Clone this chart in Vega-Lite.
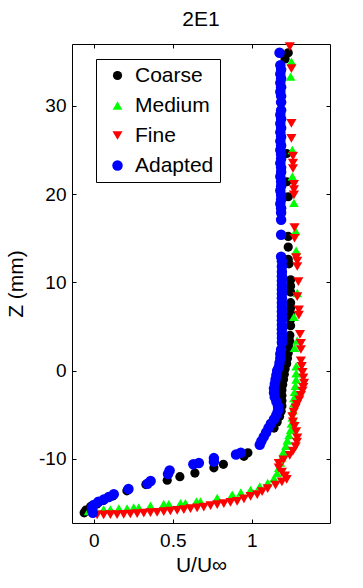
{
  "$schema": "https://vega.github.io/schema/vega-lite/v6.json",
  "width": 258,
  "height": 479,
  "autosize": {"type": "none"},
  "padding": {"left": 72, "top": 44, "right": 33, "bottom": 65},
  "background": "white",
  "title": {"text": "2E1", "fontSize": 21, "fontWeight": "normal", "font": "Liberation Sans", "color": "black", "offset": 12},
  "config": {
    "view": {"stroke": "black", "strokeWidth": 1},
    "axis": {
      "grid": false, "domain": false, "tickColor": "black", "tickSize": -4, "tickWidth": 1,
      "labelColor": "black", "labelFont": "Liberation Sans", "labelFontSize": 19,
      "titleFont": "Liberation Sans", "titleFontSize": 21, "titleFontWeight": "normal", "titleColor": "black"
    },
    "legend": {"labelFont": "Liberation Sans"}
  },
  "data": {"values": [
    {"s":"Coarse","u":1.23,"z":36.0},{"s":"Coarse","u":1.21,"z":35.3},{"s":"Coarse","u":1.22,"z":24.6},{"s":"Coarse","u":1.22,"z":21.4},{"s":"Coarse","u":1.23,"z":19.7},{"s":"Coarse","u":1.23,"z":15.2},{"s":"Coarse","u":1.23,"z":14.0},{"s":"Coarse","u":1.23,"z":12.6},{"s":"Coarse","u":1.235,"z":12.1},{"s":"Coarse","u":1.245,"z":10.3},{"s":"Coarse","u":1.245,"z":9.6},{"s":"Coarse","u":1.245,"z":8.9},{"s":"Coarse","u":1.245,"z":7.7},{"s":"Coarse","u":1.245,"z":7.1},{"s":"Coarse","u":1.245,"z":6.4},{"s":"Coarse","u":1.245,"z":5.8},{"s":"Coarse","u":1.245,"z":5.1},{"s":"Coarse","u":1.24,"z":4.0},{"s":"Coarse","u":1.24,"z":3.3},{"s":"Coarse","u":1.235,"z":2.6},{"s":"Coarse","u":1.23,"z":2.0},{"s":"Coarse","u":1.225,"z":1.4},{"s":"Coarse","u":1.22,"z":0.8},{"s":"Coarse","u":1.21,"z":0.2},{"s":"Coarse","u":1.205,"z":-0.4},{"s":"Coarse","u":1.2,"z":-1.0},{"s":"Coarse","u":1.195,"z":-1.6},{"s":"Coarse","u":1.19,"z":-2.2},{"s":"Coarse","u":1.19,"z":-2.8},{"s":"Coarse","u":1.19,"z":-3.4},{"s":"Coarse","u":1.19,"z":-4.0},{"s":"Coarse","u":1.185,"z":-4.6},{"s":"Coarse","u":1.175,"z":-5.2},{"s":"Coarse","u":1.16,"z":-5.8},{"s":"Coarse","u":1.14,"z":-6.5},{"s":"Coarse","u":0.975,"z":-9.3},{"s":"Coarse","u":0.95,"z":-9.7},{"s":"Coarse","u":0.82,"z":-10.6},{"s":"Coarse","u":0.76,"z":-11.0},{"s":"Coarse","u":0.64,"z":-11.6},{"s":"Coarse","u":0.545,"z":-12.0},{"s":"Coarse","u":0.465,"z":-12.4},{"s":"Coarse","u":0.33,"z":-12.9},{"s":"Coarse","u":0.21,"z":-13.6},{"s":"Coarse","u":0.12,"z":-14.2},{"s":"Coarse","u":0.06,"z":-14.7},{"s":"Coarse","u":0.02,"z":-15.1},{"s":"Coarse","u":-0.02,"z":-15.4},{"s":"Coarse","u":-0.05,"z":-15.8},{"s":"Coarse","u":-0.06,"z":-16.1},
    {"s":"Medium","u":1.25,"z":35.0},{"s":"Medium","u":1.245,"z":33.3},{"s":"Medium","u":1.256,"z":25.0},{"s":"Medium","u":1.256,"z":22.0},{"s":"Medium","u":1.266,"z":19.0},{"s":"Medium","u":1.277,"z":15.8},{"s":"Medium","u":1.28,"z":13.6},{"s":"Medium","u":1.287,"z":8.8},{"s":"Medium","u":1.266,"z":6.1},{"s":"Medium","u":1.287,"z":3.4},{"s":"Medium","u":1.27,"z":2.6},{"s":"Medium","u":1.28,"z":0.5},{"s":"Medium","u":1.28,"z":-0.3},{"s":"Medium","u":1.28,"z":-1.0},{"s":"Medium","u":1.275,"z":-1.7},{"s":"Medium","u":1.27,"z":-2.4},{"s":"Medium","u":1.266,"z":-3.1},{"s":"Medium","u":1.266,"z":-3.7},{"s":"Medium","u":1.26,"z":-4.5},{"s":"Medium","u":1.256,"z":-5.3},{"s":"Medium","u":1.25,"z":-6.0},{"s":"Medium","u":1.245,"z":-6.7},{"s":"Medium","u":1.235,"z":-7.3},{"s":"Medium","u":1.224,"z":-7.9},{"s":"Medium","u":1.215,"z":-8.5},{"s":"Medium","u":1.2,"z":-9.2},{"s":"Medium","u":1.19,"z":-9.8},{"s":"Medium","u":1.18,"z":-10.4},{"s":"Medium","u":1.17,"z":-11.0},{"s":"Medium","u":1.16,"z":-11.6},{"s":"Medium","u":1.14,"z":-12.2},{"s":"Medium","u":1.1,"z":-12.7},{"s":"Medium","u":1.05,"z":-13.1},{"s":"Medium","u":0.992,"z":-13.5},{"s":"Medium","u":0.93,"z":-13.8},{"s":"Medium","u":0.876,"z":-14.04},{"s":"Medium","u":0.781,"z":-14.4},{"s":"Medium","u":0.675,"z":-14.8},{"s":"Medium","u":0.65,"z":-14.8},{"s":"Medium","u":0.58,"z":-15.0},{"s":"Medium","u":0.549,"z":-15.0},{"s":"Medium","u":0.475,"z":-15.1},{"s":"Medium","u":0.443,"z":-15.1},{"s":"Medium","u":0.359,"z":-15.3},{"s":"Medium","u":0.285,"z":-15.5},{"s":"Medium","u":0.253,"z":-15.5},{"s":"Medium","u":0.211,"z":-15.6},{"s":"Medium","u":0.159,"z":-15.6},{"s":"Medium","u":0.106,"z":-15.7},{"s":"Medium","u":0.063,"z":-15.7},{"s":"Medium","u":0.011,"z":-15.7},{"s":"Medium","u":-0.032,"z":-15.9},
    {"s":"Fine","u":1.24,"z":36.7},{"s":"Fine","u":1.25,"z":34.2},{"s":"Fine","u":1.25,"z":28.0},{"s":"Fine","u":1.25,"z":26.3},{"s":"Fine","u":1.26,"z":24.3},{"s":"Fine","u":1.26,"z":23.5},{"s":"Fine","u":1.26,"z":22.9},{"s":"Fine","u":1.266,"z":21.1},{"s":"Fine","u":1.266,"z":20.5},{"s":"Fine","u":1.266,"z":19.9},{"s":"Fine","u":1.27,"z":16.2},{"s":"Fine","u":1.27,"z":15.0},{"s":"Fine","u":1.28,"z":12.8},{"s":"Fine","u":1.287,"z":12.4},{"s":"Fine","u":1.287,"z":11.8},{"s":"Fine","u":1.294,"z":10.1},{"s":"Fine","u":1.287,"z":8.4},{"s":"Fine","u":1.297,"z":6.9},{"s":"Fine","u":1.297,"z":6.3},{"s":"Fine","u":1.304,"z":4.1},{"s":"Fine","u":1.31,"z":3.1},{"s":"Fine","u":1.31,"z":2.4},{"s":"Fine","u":1.31,"z":1.1},{"s":"Fine","u":1.315,"z":0.5},{"s":"Fine","u":1.32,"z":-0.2},{"s":"Fine","u":1.325,"z":-0.8},{"s":"Fine","u":1.33,"z":-1.4},{"s":"Fine","u":1.325,"z":-1.9},{"s":"Fine","u":1.32,"z":-2.3},{"s":"Fine","u":1.31,"z":-2.8},{"s":"Fine","u":1.3,"z":-3.3},{"s":"Fine","u":1.285,"z":-3.8},{"s":"Fine","u":1.277,"z":-4.2},{"s":"Fine","u":1.265,"z":-4.7},{"s":"Fine","u":1.256,"z":-5.2},{"s":"Fine","u":1.26,"z":-5.8},{"s":"Fine","u":1.27,"z":-6.3},{"s":"Fine","u":1.28,"z":-6.9},{"s":"Fine","u":1.287,"z":-7.6},{"s":"Fine","u":1.285,"z":-8.1},{"s":"Fine","u":1.277,"z":-8.6},{"s":"Fine","u":1.26,"z":-9.1},{"s":"Fine","u":1.24,"z":-9.6},{"s":"Fine","u":1.2,"z":-10.1},{"s":"Fine","u":1.17,"z":-10.5},{"s":"Fine","u":1.17,"z":-11.0},{"s":"Fine","u":1.19,"z":-11.5},{"s":"Fine","u":1.21,"z":-11.9},{"s":"Fine","u":1.22,"z":-12.3},{"s":"Fine","u":1.19,"z":-12.6},{"s":"Fine","u":1.15,"z":-12.95},{"s":"Fine","u":1.1,"z":-13.35},{"s":"Fine","u":1.065,"z":-13.7},{"s":"Fine","u":1.034,"z":-14.04},{"s":"Fine","u":0.992,"z":-14.23},{"s":"Fine","u":0.95,"z":-14.53},{"s":"Fine","u":0.907,"z":-14.8},{"s":"Fine","u":0.865,"z":-14.91},{"s":"Fine","u":0.823,"z":-15.06},{"s":"Fine","u":0.781,"z":-15.18},{"s":"Fine","u":0.739,"z":-15.29},{"s":"Fine","u":0.696,"z":-15.44},{"s":"Fine","u":0.654,"z":-15.55},{"s":"Fine","u":0.612,"z":-15.63},{"s":"Fine","u":0.57,"z":-15.74},{"s":"Fine","u":0.528,"z":-15.82},{"s":"Fine","u":0.485,"z":-15.89},{"s":"Fine","u":0.443,"z":-15.97},{"s":"Fine","u":0.401,"z":-16.04},{"s":"Fine","u":0.359,"z":-16.08},{"s":"Fine","u":0.317,"z":-16.12},{"s":"Fine","u":0.275,"z":-16.19},{"s":"Fine","u":0.232,"z":-16.23},{"s":"Fine","u":0.19,"z":-16.27},{"s":"Fine","u":0.148,"z":-16.31},{"s":"Fine","u":0.106,"z":-16.31},{"s":"Fine","u":0.063,"z":-16.34},{"s":"Fine","u":0.022,"z":-16.34},
    {"s":"Adapted","u":1.175,"z":36.0},{"s":"Adapted","u":1.18,"z":34.6},{"s":"Adapted","u":1.185,"z":34.1},{"s":"Adapted","u":1.18,"z":33.6},{"s":"Adapted","u":1.185,"z":33.1},{"s":"Adapted","u":1.18,"z":32.6},{"s":"Adapted","u":1.185,"z":32.1},{"s":"Adapted","u":1.18,"z":31.6},{"s":"Adapted","u":1.185,"z":31.1},{"s":"Adapted","u":1.185,"z":30.4},{"s":"Adapted","u":1.185,"z":29.5},{"s":"Adapted","u":1.18,"z":29.0},{"s":"Adapted","u":1.185,"z":28.5},{"s":"Adapted","u":1.18,"z":28.0},{"s":"Adapted","u":1.185,"z":27.5},{"s":"Adapted","u":1.18,"z":27.0},{"s":"Adapted","u":1.185,"z":26.5},{"s":"Adapted","u":1.18,"z":26.0},{"s":"Adapted","u":1.185,"z":25.5},{"s":"Adapted","u":1.18,"z":25.0},{"s":"Adapted","u":1.185,"z":24.5},{"s":"Adapted","u":1.185,"z":24.0},{"s":"Adapted","u":1.18,"z":23.5},{"s":"Adapted","u":1.185,"z":23.0},{"s":"Adapted","u":1.185,"z":22.5},{"s":"Adapted","u":1.18,"z":22.0},{"s":"Adapted","u":1.185,"z":21.4},{"s":"Adapted","u":1.185,"z":20.9},{"s":"Adapted","u":1.18,"z":20.4},{"s":"Adapted","u":1.185,"z":19.9},{"s":"Adapted","u":1.185,"z":19.4},{"s":"Adapted","u":1.18,"z":18.9},{"s":"Adapted","u":1.185,"z":18.4},{"s":"Adapted","u":1.185,"z":17.9},{"s":"Adapted","u":1.185,"z":17.1},{"s":"Adapted","u":1.185,"z":15.4},{"s":"Adapted","u":1.185,"z":12.9},{"s":"Adapted","u":1.19,"z":12.4},{"s":"Adapted","u":1.19,"z":11.8},{"s":"Adapted","u":1.19,"z":11.2},{"s":"Adapted","u":1.19,"z":10.7},{"s":"Adapted","u":1.19,"z":10.2},{"s":"Adapted","u":1.19,"z":9.7},{"s":"Adapted","u":1.19,"z":9.2},{"s":"Adapted","u":1.19,"z":8.7},{"s":"Adapted","u":1.19,"z":8.2},{"s":"Adapted","u":1.19,"z":7.7},{"s":"Adapted","u":1.19,"z":7.2},{"s":"Adapted","u":1.19,"z":6.7},{"s":"Adapted","u":1.19,"z":6.2},{"s":"Adapted","u":1.19,"z":5.7},{"s":"Adapted","u":1.19,"z":5.2},{"s":"Adapted","u":1.19,"z":4.7},{"s":"Adapted","u":1.19,"z":4.2},{"s":"Adapted","u":1.19,"z":3.7},{"s":"Adapted","u":1.19,"z":3.2},{"s":"Adapted","u":1.185,"z":2.4},{"s":"Adapted","u":1.18,"z":1.9},{"s":"Adapted","u":1.18,"z":1.4},{"s":"Adapted","u":1.175,"z":0.9},{"s":"Adapted","u":1.17,"z":0.4},{"s":"Adapted","u":1.16,"z":0.0},{"s":"Adapted","u":1.155,"z":-0.5},{"s":"Adapted","u":1.15,"z":-1.0},{"s":"Adapted","u":1.145,"z":-1.5},{"s":"Adapted","u":1.14,"z":-2.0},{"s":"Adapted","u":1.14,"z":-2.5},{"s":"Adapted","u":1.145,"z":-3.0},{"s":"Adapted","u":1.155,"z":-3.5},{"s":"Adapted","u":1.165,"z":-4.0},{"s":"Adapted","u":1.165,"z":-4.5},{"s":"Adapted","u":1.155,"z":-5.0},{"s":"Adapted","u":1.14,"z":-5.5},{"s":"Adapted","u":1.12,"z":-6.0},{"s":"Adapted","u":1.105,"z":-6.5},{"s":"Adapted","u":1.09,"z":-7.0},{"s":"Adapted","u":1.075,"z":-7.5},{"s":"Adapted","u":1.06,"z":-8.0},{"s":"Adapted","u":1.05,"z":-8.4},{"s":"Adapted","u":0.93,"z":-9.3},{"s":"Adapted","u":0.9,"z":-9.5},{"s":"Adapted","u":0.76,"z":-9.9},{"s":"Adapted","u":0.76,"z":-10.3},{"s":"Adapted","u":0.665,"z":-10.45},{"s":"Adapted","u":0.63,"z":-10.6},{"s":"Adapted","u":0.48,"z":-11.3},{"s":"Adapted","u":0.47,"z":-11.7},{"s":"Adapted","u":0.36,"z":-12.5},{"s":"Adapted","u":0.34,"z":-12.8},{"s":"Adapted","u":0.22,"z":-13.4},{"s":"Adapted","u":0.127,"z":-14.0},{"s":"Adapted","u":0.095,"z":-14.3},{"s":"Adapted","u":0.063,"z":-14.6},{"s":"Adapted","u":0.03,"z":-14.85},{"s":"Adapted","u":0.0,"z":-15.2},{"s":"Adapted","u":-0.01,"z":-15.5},{"s":"Adapted","u":-0.01,"z":-15.8},{"s":"Adapted","u":-0.005,"z":-16.1}
  ]},
  "layer": [
    {
      "mark": {"type": "point", "filled": true, "opacity": 1, "strokeWidth": 0},
      "encoding": {
        "x": {"field": "u", "type": "quantitative", "scale": {"domain": [-0.137, 1.494], "nice": false, "zero": false},
              "axis": {"orient": "bottom", "values": [0, 0.5, 1], "labelExpr": "'' + datum.value", "labelPadding": 12, "title": "U/U∞", "titlePadding": 4}},
        "y": {"field": "z", "type": "quantitative", "scale": {"domain": [-17.25, 37], "nice": false, "zero": false},
              "axis": {"orient": "left", "values": [-10, 0, 10, 20, 30], "labelExpr": "'' + datum.value", "labelPadding": 10, "title": "Z (mm)", "titlePadding": 12}},
        "color": {"field": "s", "type": "nominal", "sort": ["Coarse", "Medium", "Fine", "Adapted"],
                  "scale": {"domain": ["Coarse", "Medium", "Fine", "Adapted"], "range": ["#000000", "#00ff00", "#ff0000", "#0000ff"]},
                  "legend": {"title": null, "orient": "none", "legendX": 24, "legendY": 15, "strokeColor": "black", "fillColor": "white",
                             "padding": 6, "symbolOffset": 5, "labelOffset": 7, "labelFontSize": 21, "labelColor": "black",
                             "symbolSize": 75, "rowPadding": 8, "symbolStrokeWidth": 0, "cornerRadius": 0}},
        "shape": {"field": "s", "type": "nominal", "sort": ["Coarse", "Medium", "Fine", "Adapted"],
                  "scale": {"domain": ["Coarse", "Medium", "Fine", "Adapted"], "range": ["circle", "triangle-up", "triangle-down", "circle"]},
                  "legend": {"title": null, "orient": "none", "legendX": 24, "legendY": 15, "strokeColor": "black", "fillColor": "white",
                             "padding": 6, "symbolOffset": 5, "labelOffset": 7, "labelFontSize": 21, "labelColor": "black",
                             "symbolSize": 75, "rowPadding": 8, "symbolStrokeWidth": 0, "cornerRadius": 0}},
        "size": {"field": "s", "type": "nominal", "scale": {"domain": ["Coarse", "Medium", "Fine", "Adapted"], "range": [85, 110, 110, 85]}, "legend": null}
      }
    },
    {
      "mark": {"type": "point", "opacity": 0},
      "encoding": {
        "x": {"field": "u", "type": "quantitative", "axis": {"orient": "top", "values": [0, 0.5, 1], "labels": false, "title": null}},
        "y": {"field": "z", "type": "quantitative", "axis": {"orient": "right", "values": [-10, 0, 10, 20, 30], "labels": false, "title": null}}
      }
    }
  ]
}
